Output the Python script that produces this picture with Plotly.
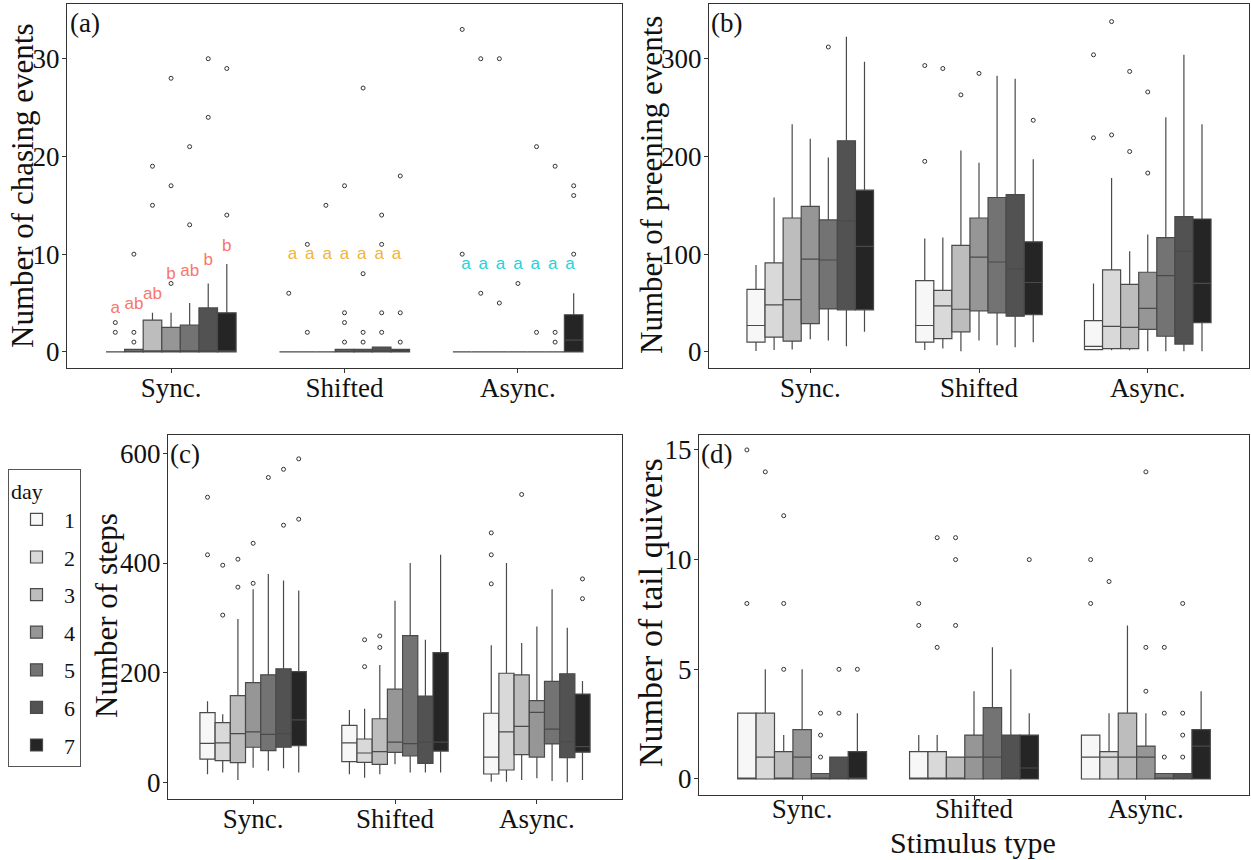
import plotly.graph_objects as go

# ---------------- data ----------------
STIMULI = ["Sync.", "Shifted", "Async."]
DAYS = [1, 2, 3, 4, 5, 6, 7]
DAY_FILLS = ["#f7f7f7", "#d9d9d9", "#bdbdbd", "#969696", "#737373", "#525252", "#252525"]

# values indexed [day][stimulus]  (stimulus order: Sync., Shifted, Async.)
# (a) chasing events
A_Q1 = [[0, 0, 0]] * 7
A_MED = [[0, 0, 0], [0, 0, 0], [0, 0, 0], [0, 0, 0], [0, 0, 0], [0, 0, 0], [0, 0, 1.2]]
A_Q3 = [[0, 0, 0], [0.25, 0, 0], [3.25, 0, 0], [2.5, 0.25, 0], [2.75, 0.25, 0], [4.5, 0.5, 0], [4, 0.25, 3.8]]
A_LO = [[0, 0, 0]] * 7
A_HI = [[0, 0, 0], [0.25, 0, 0], [4, 0, 0], [4, 0.25, 0], [5, 0.25, 0], [7, 0.5, 0], [9, 0.25, 6]]
A_OUT = [
    [[2, 3], [6], [10, 33]],
    [[1, 2, 10], [2, 11], [6, 30]],
    [[15, 19], [15], [5, 30]],
    [[7, 17, 28], [1, 3, 4, 17], [7]],
    [[13, 21], [1, 2, 8, 27], [2, 21]],
    [[24, 30], [2, 4, 11, 14], [1, 2, 19]],
    [[14, 29], [1, 4, 18], [10, 16, 17]],
]
# significance letters in (a), one per day, per stimulus
A_LETTERS_SYNC = ["a", "ab", "ab", "b", "ab", "b", "b"]
A_LETTERS_SYNC_Y = [4.4, 4.8, 5.8, 7.9, 8.2, 9.35, 10.8]
A_LETTERS_SHIFTED = ["a", "a", "a", "a", "a", "a", "a"]
A_LETTERS_SHIFTED_Y = [9.9] * 7
A_LETTERS_ASYNC = ["a", "a", "a", "a", "a", "a", "a"]
A_LETTERS_ASYNC_Y = [8.9] * 7

# (b) preening events
B_Q1 = [[10, 10, 2.4], [15, 13.6, 3.4], [11, 20.5, 3.4], [29, 42, 23], [44, 40, 16], [43, 36.5, 8], [43, 38, 30]]
B_MED = [[27, 27, 5.7], [48, 47, 26], [53.5, 43.6, 25], [95, 97, 44.6], [94, 92, 78], [134, 85, 103], [108, 71, 70]]
B_Q3 = [[64, 73, 32], [91, 63, 84], [137, 109, 69], [149, 137, 81.5], [135, 158, 117], [216, 161, 138.5], [165.5, 112.6, 136]]
B_LO = [[1, 2, 1.7], [2, 3.4, 1.7], [2.4, 0.6, 1.7], [13, 11.6, 0.6], [11.6, 6.8, 0.6], [5.7, 4.7, 0.6], [20.5, 9.8, 0.6]]
B_HI = [[89, 116, 70], [158, 117, 178], [233, 206, 103], [218, 193.5, 120], [199, 282.6, 240], [322.5, 279.5, 304], [297, 197, 233]]
B_OUT = [
    [[], [195, 293], [219, 304]],
    [[], [290], [222, 338]],
    [[], [263], [205, 287]],
    [[], [285], [183, 266]],
    [[312], [], []],
    [[], [], []],
    [[], [237], []],
]

# (c) steps
C_Q1 = [[42.5, 37.7, 15.2], [39.5, 36.5, 22.5], [36, 32.8, 50.5], [64, 54.7, 46], [58, 48, 70], [64, 34.6, 45], [67, 57, 55]]
C_MED = [[71, 72, 46], [72, 53.5, 92], [89, 56, 102], [92, 73.5, 127.6], [87.5, 70.5, 97], [89, 73.5, 74], [114, 73.5, 65]]
C_Q3 = [[127, 104, 126], [109, 79, 199], [158, 116, 196], [182, 170, 149], [196, 267.5, 184], [207, 157.5, 198], [202, 236.5, 161]]
C_LO = [[14.6, 14.6, 1.2], [18, 8.5, 1.2], [4.3, 14.6, 4.3], [26.7, 32.8, 7.3], [21, 18, 2.4], [25.5, 18, 0], [18, 18, 4.3]]
C_HI = [[148, 132, 250], [124, 134, 400], [298, 214, 254], [352, 331, 284], [380, 400, 352], [368, 260, 282], [350, 415, 185]]
C_OUT = [
    [[415, 520], [], [362, 415, 455]],
    [[305, 396], [211, 260], []],
    [[356, 407], [246, 267], [525]],
    [[363, 436], [], []],
    [[556], [], []],
    [[469, 571], [], []],
    [[480, 590], [], [335, 371]],
]

# (d) tail quivers
D_Q1 = [[0, 0, 0]] * 7
D_MED = [[0, 0, 1], [1, 0, 1], [0, 0, 1], [1, 1, 1], [0, 1, 0], [0, 0, 0], [0, 0.5, 1.5]]
D_Q3 = [[3, 1.25, 2], [3, 1.25, 1.25], [1.25, 1, 3], [2.25, 2, 1.5], [0.25, 3.25, 0.25], [1, 2, 0.25], [1.25, 2, 2.25]]
D_LO = [[0, 0, 0]] * 7
D_HI = [[3, 2, 2], [5, 2, 3], [2, 1, 7], [5, 4, 3], [0.25, 6, 0.25], [1, 5, 0.25], [3, 3, 4]]
D_OUT = [
    [[8, 15], [7, 8], [8, 10]],
    [[14], [6, 11], [9]],
    [[5, 8, 12], [7, 10, 11], []],
    [[], [], [4, 6, 14]],
    [[1, 2, 3], [], [1, 3, 6]],
    [[3, 5], [], [1, 2, 3, 8]],
    [[5], [10], []],
]

Y_TICKS_A = [0, 10, 20, 30]
Y_TICKS_B = [0, 100, 200, 300]
Y_TICKS_C = [0, 200, 400, 600]
Y_TICKS_D = [0, 5, 10, 15]

# ---------------- figure ----------------
W, H = 1251, 860
SERIF = "Liberation Serif"
DODGE = 0.75
BW = DODGE / len(DAYS)
LINE_COL = "#4a4a4a"

fig = go.Figure()

panels = [
    dict(q1=A_Q1, med=A_MED, q3=A_Q3, lo=A_LO, hi=A_HI, out=A_OUT, xa="x", ya="y", legend=False),
    dict(q1=B_Q1, med=B_MED, q3=B_Q3, lo=B_LO, hi=B_HI, out=B_OUT, xa="x2", ya="y2", legend=False),
    dict(q1=C_Q1, med=C_MED, q3=C_Q3, lo=C_LO, hi=C_HI, out=C_OUT, xa="x3", ya="y3", legend=True),
    dict(q1=D_Q1, med=D_MED, q3=D_Q3, lo=D_LO, hi=D_HI, out=D_OUT, xa="x4", ya="y4", legend=False),
]


def pos(stim_idx, day_idx):
    return stim_idx + 1 + (day_idx - (len(DAYS) - 1) / 2) * BW


for p in panels:
    for di, d in enumerate(DAYS):
        xs = [pos(s, di) for s in range(len(STIMULI))]
        fig.add_trace(go.Box(
            x=xs, q1=p["q1"][di], median=p["med"][di], q3=p["q3"][di],
            lowerfence=p["lo"][di], upperfence=p["hi"][di],
            width=BW, fillcolor=DAY_FILLS[di],
            line=dict(color=LINE_COL, width=1.2), whiskerwidth=0,
            boxpoints=False, name=str(d), legendgroup=str(d),
            showlegend=p["legend"], xaxis=p["xa"], yaxis=p["ya"], hoverinfo="skip",
        ))
        ox, oy = [], []
        for s in range(len(STIMULI)):
            for v in p["out"][di][s]:
                ox.append(xs[s])
                oy.append(v)
        fig.add_trace(go.Scatter(
            x=ox, y=oy, mode="markers", showlegend=False,
            marker=dict(symbol="circle-open", size=4, color="#333333", line=dict(width=1)),
            xaxis=p["xa"], yaxis=p["ya"], hoverinfo="skip",
        ))

# letters in (a)
letter_sets = [
    (0, A_LETTERS_SYNC, A_LETTERS_SYNC_Y, "#f8766d", BW),
    (1, A_LETTERS_SHIFTED, A_LETTERS_SHIFTED_Y, "#f5b335", 0.1),
    (2, A_LETTERS_ASYNC, A_LETTERS_ASYNC_Y, "#22d3dc", 0.1),
]
for s, labels, ys, col, step in letter_sets:
    fig.add_trace(go.Scatter(
        x=[s + 1 + (i - 3) * step for i in range(len(labels))], y=ys,
        mode="text", text=labels, textposition="middle center",
        textfont=dict(family="Liberation Sans", size=17, color=col),
        showlegend=False, hoverinfo="skip", xaxis="x", yaxis="y",
    ))

# domains from pixel boxes
def xd(a, b):
    return [a / W, b / W]


def yd(top, bottom):
    return [1 - bottom / H, 1 - top / H]


axis_common = dict(showline=True, mirror=True, linecolor="#333333", linewidth=1,
                   ticks="outside", ticklen=4, tickcolor="#333333", showgrid=False,
                   zeroline=False, tickfont=dict(family=SERIF, size=27, color="#111111"))

xcommon = dict(axis_common, range=[0.4, 3.6], tickvals=[1, 2, 3], ticktext=STIMULI,
               ticklabelstandoff=-8)
ycommon = dict(axis_common, ticklabelstandoff=-3)

fig.update_layout(
    width=W, height=H, margin=dict(l=0, r=0, t=0, b=0),
    paper_bgcolor="white", plot_bgcolor="white",
    font=dict(family=SERIF, color="#111111"),
    boxmode="overlay",
    xaxis=dict(xcommon, domain=xd(67, 622), anchor="y"),
    yaxis=dict(ycommon, domain=yd(4, 368), anchor="x", range=[-1.65, 35.6], tickvals=Y_TICKS_A),
    xaxis2=dict(xcommon, domain=xd(709, 1249), anchor="y2"),
    yaxis2=dict(ycommon, domain=yd(4, 368), anchor="x2", range=[-16.5, 356], tickvals=Y_TICKS_B),
    xaxis3=dict(xcommon, domain=xd(168, 622), anchor="y3"),
    yaxis3=dict(ycommon, domain=yd(435, 799), anchor="x3", range=[-30.4, 633.5], tickvals=Y_TICKS_C),
    xaxis4=dict(xcommon, domain=xd(699, 1249), anchor="y4", ticklabelstandoff=-14),
    yaxis4=dict(ycommon, domain=yd(435, 795), anchor="x4", range=[-0.73, 15.68], tickvals=Y_TICKS_D),
    legend=dict(x=8 / W, y=1 - 469 / H, xanchor="left", yanchor="top",
                bordercolor="#555555", borderwidth=1, bgcolor="white",
                title=dict(text="day", font=dict(family=SERIF, size=22)),
                font=dict(family=SERIF, size=22), tracegroupgap=6, itemwidth=45),
)

annots = [
    ("Number of chasing events", 23, 186, 31, -90, "middle"),
    ("Number of preening events", 652, 185, 31, -90, "middle"),
    ("Number of steps", 106, 616, 31, -90, "middle"),
    ("Number of tail quivers", 650, 613, 34, -90, "middle"),
    ("Stimulus type", 973, 860, 30, 0, "bottom"),
]
for text, px, py, size, ang, yanc in annots:
    fig.add_annotation(text=text, x=px / W, y=1 - py / H, xref="paper", yref="paper",
                       xanchor="center", yanchor=yanc, showarrow=False, textangle=ang,
                       borderpad=0,
                       font=dict(family=SERIF, size=size, color="#111111"))

for text, px, py in [("(a)", 68, 6), ("(b)", 709, 6), ("(c)", 168, 437), ("(d)", 699, 437)]:
    fig.add_annotation(text=text, x=px / W, y=1 - py / H, xref="paper", yref="paper",
                       xanchor="left", yanchor="top", showarrow=False,
                       font=dict(family=SERIF, size=27, color="#111111"))

fig.write_html("out.html")
